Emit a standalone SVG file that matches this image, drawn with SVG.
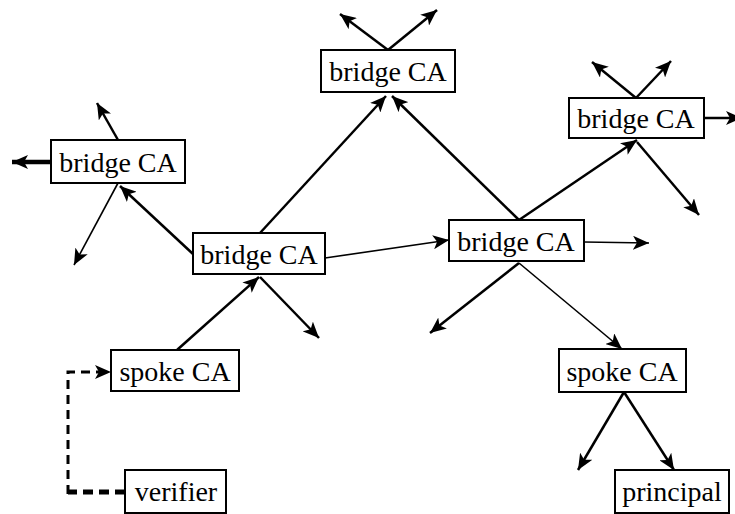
<svg xmlns="http://www.w3.org/2000/svg" width="735" height="514" viewBox="0 0 735 514">
  <style>
    .box rect { fill: #fff; stroke: #000; stroke-width: 2; }
    .box text { font-family: "Liberation Serif", "Times New Roman", serif; font-size: 28px; fill: #000; text-anchor: middle; }
    .edge { stroke: #000; stroke-width: 2.5; fill: none; marker-end: url(#head); }
    .thin { stroke-width: 1.6; }
  </style>
  <defs>
    <marker id="head" markerUnits="userSpaceOnUse" markerWidth="18" markerHeight="14" refX="16" refY="7" orient="auto">
      <path d="M0,0 L16,7 L0,14 L4,7 Z" fill="#000"/>
    </marker>
  </defs>

  <!-- connectors -->
  <g id="connectors">
    <!-- top bridge CA outgoing -->
    <line class="edge" x1="388" y1="50" x2="340" y2="14"/>
    <line class="edge" x1="388" y1="50" x2="437" y2="10"/>
    <!-- left bridge CA outgoing -->
    <line class="edge" x1="118" y1="140" x2="97" y2="103"/>
    <line class="edge" x1="51" y1="162" x2="12" y2="162" style="stroke-width:4.5"/>
    <line class="edge thin" x1="118" y1="183" x2="74" y2="265"/>
    <!-- centre-left bridge CA -->
    <line class="edge" x1="193" y1="254" x2="120" y2="186"/>
    <line class="edge" x1="260" y1="233" x2="386" y2="96"/>
    <line class="edge thin" x1="325" y1="258" x2="449" y2="240"/>
    <line class="edge" x1="260" y1="277" x2="319" y2="338"/>
    <!-- centre-right bridge CA -->
    <line class="edge" x1="519" y1="220" x2="392" y2="96"/>
    <line class="edge" x1="519" y1="220" x2="637" y2="140"/>
    <line class="edge thin" x1="584" y1="242" x2="649" y2="243"/>
    <line class="edge" x1="519" y1="263" x2="430" y2="333"/>
    <line class="edge thin" x1="519" y1="263" x2="622" y2="349"/>
    <!-- right bridge CA outgoing -->
    <line class="edge" x1="636" y1="98" x2="592" y2="62"/>
    <line class="edge" x1="636" y1="98" x2="671" y2="61"/>
    <line class="edge" x1="704" y1="118" x2="742" y2="118"/>
    <line class="edge" x1="637" y1="142" x2="699" y2="215"/>
    <!-- spoke CA (left) up to bridge -->
    <line class="edge" x1="177" y1="350" x2="259" y2="277"/>
    <!-- spoke CA (right) outgoing -->
    <line class="edge" x1="624" y1="392" x2="578" y2="470"/>
    <line class="edge" x1="624" y1="392" x2="674" y2="470"/>
    <!-- verifier path to spoke CA -->
    <path d="M125,492 L68,492" stroke="#000" stroke-width="5" stroke-dasharray="10,6" fill="none"/>
    <path d="M68,494 L68,372 L111,372" stroke="#000" stroke-width="3" stroke-dasharray="9,6" fill="none" marker-end="url(#head)"/>
  </g>

  <!-- nodes -->
  <g id="bridge-top" class="box">
    <rect x="321" y="50" width="134" height="42"/>
    <text x="388" y="81">bridge CA</text>
  </g>
  <g id="bridge-left" class="box">
    <rect x="51" y="140" width="134" height="43"/>
    <text x="118" y="172">bridge CA</text>
  </g>
  <g id="bridge-right" class="box">
    <rect x="569" y="98" width="135" height="40"/>
    <text x="636" y="128">bridge CA</text>
  </g>
  <g id="bridge-centre-left" class="box">
    <rect x="193" y="233" width="132" height="41"/>
    <text x="259" y="264">bridge CA</text>
  </g>
  <g id="bridge-centre-right" class="box">
    <rect x="449" y="220" width="135" height="41"/>
    <text x="516" y="251">bridge CA</text>
  </g>
  <g id="spoke-left" class="box">
    <rect x="111" y="350" width="128" height="41"/>
    <text x="175" y="381">spoke CA</text>
  </g>
  <g id="spoke-right" class="box">
    <rect x="559" y="349" width="127" height="43"/>
    <text x="622" y="381">spoke CA</text>
  </g>
  <g id="verifier" class="box">
    <rect x="125" y="470" width="101" height="43"/>
    <text x="176" y="501">verifier</text>
  </g>
  <g id="principal" class="box">
    <rect x="615" y="470" width="114" height="43"/>
    <text x="672" y="501">principal</text>
  </g>
</svg>
